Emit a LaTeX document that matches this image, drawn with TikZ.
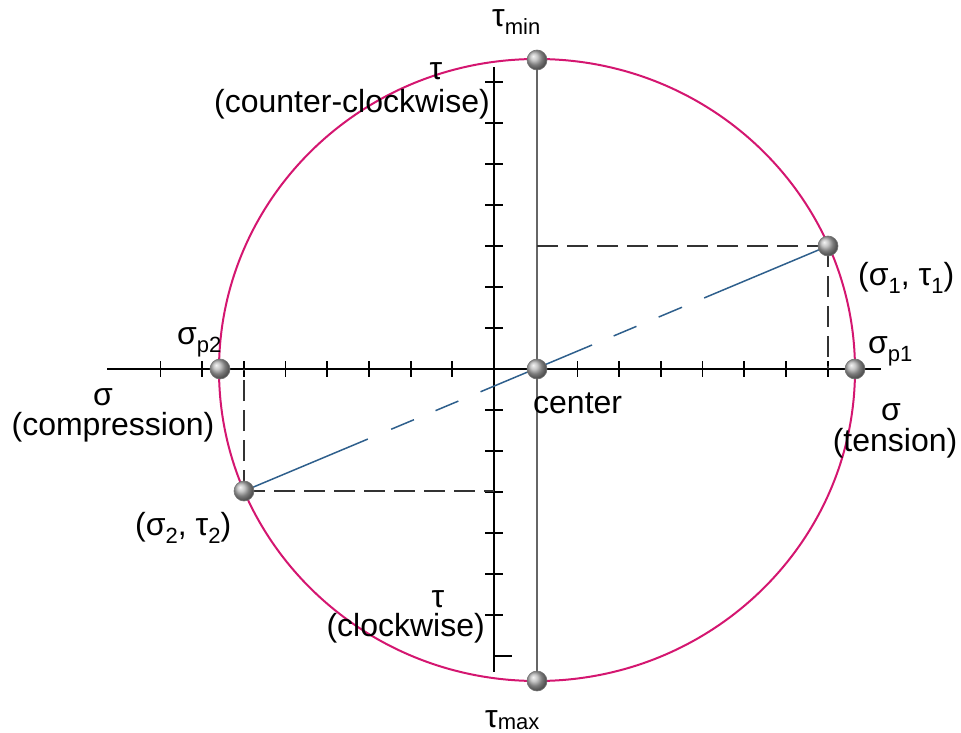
\documentclass[tikz,border=0pt]{standalone}
\usepackage{fontspec}
\setmainfont{Liberation Sans}
\usetikzlibrary{calc}
\definecolor{mohr}{RGB}{212,22,112}
\definecolor{diam}{RGB}{46,95,140}
\newcommand\mysub[1]{\raisebox{-8pt}{\fontsize{22}{22}\selectfont #1}}
\begin{document}
\begin{tikzpicture}[x=1pt,y=-1pt,
  lbl/.style={inner sep=0pt,font=\fontsize{32}{38}\selectfont},
  ballpt/.style={circle,minimum size=20pt,inner sep=0pt,ball color=gray!60,draw=black!55,line width=0.6pt},
  axisline/.style={line width=2pt,black},
  tickline/.style={line width=1.8pt,black},
  guide/.style={line width=1.5pt,black!80,dash pattern=on 21pt off 9pt},
  diamline/.style={line width=1.5pt,diam},
  vline/.style={line width=1.3pt,black!60}]
\useasboundingbox (0,0) rectangle (961,733);
% axes
\draw[axisline] (107,369) -- (881,369);
\draw[axisline] (494,67) -- (494,672);
\foreach \k in {-8,...,-1,1,2,...,8}
  \draw[tickline] ({494+41.7*\k},361) -- ({494+41.7*\k},377);
\foreach \k in {-7,...,6}
  \draw[tickline] (485,{369+41*\k}) -- (503,{369+41*\k});
\draw[tickline] (494,656) -- (512,656);
\coordinate (tauaxis) at (494,369);
% Mohr circle
\draw[mohr,line width=2pt] (537,370) ellipse [x radius=318, y radius=311];
% points (named)
\coordinate (tminc) at (537,60);
\coordinate (tmaxc) at (537,681);
\coordinate (cc) at (537,369);
\coordinate (s1c) at (828,246);
\coordinate (s2c) at (244,491);
% vertical line through center
\draw[vline] (tminc) -- (tmaxc);
% dashed guides
\draw[guide] (s1c) -- (s1c -| cc);
\draw[guide] (s1c) -- (s1c |- cc);
\draw[guide] (s2c) -- (s2c -| tauaxis);
\draw[guide] (s2c) -- (s2c |- cc);
% diameter
\foreach \a/\b in {0/0.212,0.252/0.291,0.328/0.367,0.405/0.596,0.633/0.672,0.71/0.75,0.788/1}
  \draw[diamline] ($(s2c)!\a!(s1c)$) -- ($(s2c)!\b!(s1c)$);
% balls
\node[ballpt] (tmin) at (tminc) {};
\node[ballpt] (tmax) at (tmaxc) {};
\node[ballpt] (c) at (cc) {};
\node[ballpt] (sp2) at (220,369) {};
\node[ballpt] (sp1) at (855,369) {};
\node[ballpt] (s1) at (s1c) {};
\node[ballpt] (s2) at (s2c) {};
% labels
\node[lbl,anchor=base west] (ltmin) at (492,27) {τ\mysub{min}};
\node[lbl,anchor=base west] (ltmax) at (485,727) {τ\raisebox{-2pt}{\fontsize{22}{22}\selectfont max}};
\node[lbl,anchor=base] (ltau1) at (436,80) {τ};
\node[lbl,anchor=base east] (lccw) at (490,113) {(counter-clockwise)};
\node[lbl,anchor=base] (ltau2) at (438,607) {τ};
\node[lbl,anchor=base east] (lcw) at (485,636) {(clockwise)};
\node[lbl,anchor=base west] (lsp2) at (177,344) {σ\mysub{p2}};
\node[lbl,anchor=base west] (lsp1) at (868,353) {σ\mysub{p1}};
\node[lbl,anchor=base] (lsigc) at (103,405) {σ};
\node[lbl,anchor=base] (lcomp) at (113,435) {(compression)};
\node[lbl,anchor=base] (lsigt) at (891,420) {σ};
\node[lbl,anchor=base] (lten) at (895,451) {(tension)};
\node[lbl,anchor=base west] (lcen) at (533,413) {center};
\node[lbl,anchor=base west] (ls1) at (858,285) {(σ\mysub{1}, τ\mysub{1})};
\node[lbl,anchor=base west] (ls2) at (135,535) {(σ\mysub{2}, τ\mysub{2})};
\end{tikzpicture}
\end{document}
